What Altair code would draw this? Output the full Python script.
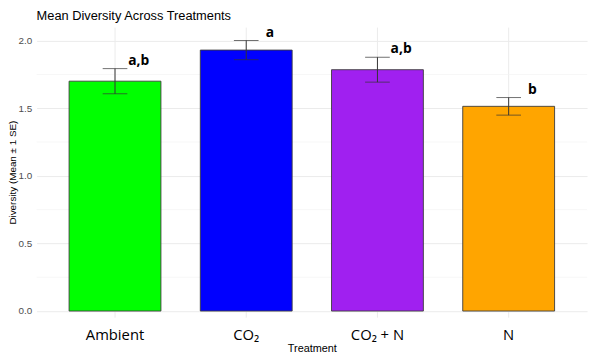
import altair as alt
import pandas as pd

# ---- data ----
treatments = ["Ambient", "CO₂", "CO₂ + N", "N"]
means = [1.700, 1.930, 1.785, 1.514]
ses = [0.093, 0.071, 0.092, 0.065]
letters = ["a,b", "a", "a,b", "b"]
colors = ["#00FF00", "#0000FF", "#A020F0", "#FFA500"]
y_ticks = [0.0, 0.5, 1.0, 1.5, 2.0]
y_minor = [0.25, 0.75, 1.25, 1.75]

df = pd.DataFrame({"Treatment": treatments, "mean": means, "se": ses, "letter": letters})
df["lower"] = df["mean"] - df["se"]
df["upper"] = df["mean"] + df["se"]
minor_df = pd.DataFrame({"v": y_minor})

W, H = 558, 294
y_scale = alt.Scale(domain=[-0.045, 2.1], nice=False, zero=False)
x_scale = alt.Scale(domain=treatments, paddingInner=0.3, paddingOuter=0.2475)

x_axis = alt.Axis(
    title="Treatment", labelAngle=0, ticks=False, domain=False, grid=True,
    gridColor="#EBEBEB", gridWidth=1, labelFont="Open Sans, Noto Sans, sans-serif",
    labelFontSize=15, labelColor="black", labelPadding=11,
    titleFont="Liberation Sans", titleFontSize=11, titleFontWeight="normal",
    titleColor="black", titlePadding=0,
)
y_axis = alt.Axis(
    title="Diversity (Mean ± 1 SE)", values=y_ticks, format=".1f", ticks=False,
    tickSize=0, domain=False, grid=True, gridColor="#EBEBEB", gridWidth=1,
    labelFont="Liberation Sans", labelFontSize=10, labelColor="#4D4D4D",
    labelPadding=5, titleFont="Liberation Sans", titleFontSize=10,
    titleFontWeight="normal", titleColor="black", titlePadding=0,
)

x_enc = alt.X("Treatment:N", sort=treatments, scale=x_scale, axis=x_axis)

minor = alt.Chart(minor_df).mark_rule(color="#F3F3F3", strokeWidth=0.7).encode(
    y=alt.Y("v:Q", scale=y_scale, axis=y_axis),
    x=alt.value(0), x2=alt.value(W),
)

bars = alt.Chart(df).mark_bar(stroke="#3C3C3C", strokeWidth=0.9).encode(
    x=x_enc,
    y=alt.Y("mean:Q", scale=y_scale, axis=y_axis),
    y2=alt.datum(0),
    color=alt.Color("Treatment:N", scale=alt.Scale(domain=treatments, range=colors), legend=None),
)

err = alt.Chart(df).mark_rule(color="#333333", strokeWidth=1).encode(
    x=alt.X("Treatment:N", sort=treatments, scale=x_scale),
    y=alt.Y("lower:Q", scale=y_scale),
    y2="upper:Q",
)
cap_hi = alt.Chart(df).mark_tick(color="#333333", size=25, thickness=1, orient="horizontal").encode(
    x=alt.X("Treatment:N", sort=treatments, scale=x_scale),
    y=alt.Y("upper:Q", scale=y_scale),
)
cap_lo = alt.Chart(df).mark_tick(color="#333333", size=25, thickness=1, orient="horizontal").encode(
    x=alt.X("Treatment:N", sort=treatments, scale=x_scale),
    y=alt.Y("lower:Q", scale=y_scale),
)
labels = alt.Chart(df).mark_text(
    font="Open Sans, Noto Sans, sans-serif", fontWeight="bold", fontSize=14,
    dx=24, dy=-4, baseline="alphabetic", align="center", color="black",
).encode(
    x=alt.X("Treatment:N", sort=treatments, scale=x_scale),
    y=alt.Y("upper:Q", scale=y_scale),
    text="letter:N",
)

chart = alt.layer(minor, bars, err, cap_hi, cap_lo, labels).properties(
    width=W, height=H,
    title=alt.TitleParams(
        "Mean Diversity Across Treatments", anchor="start", frame="group",
        font="Liberation Sans", fontSize=13, fontWeight="normal", color="black",
        offset=3,
    ),
    autosize=alt.AutoSizeParams(type="none"),
    padding={"left": 29, "top": 17, "right": 5, "bottom": 34},
    background="white",
).configure_view(stroke=None)

chart.save("out.html", embed_options={"renderer": "svg", "actions": False})
